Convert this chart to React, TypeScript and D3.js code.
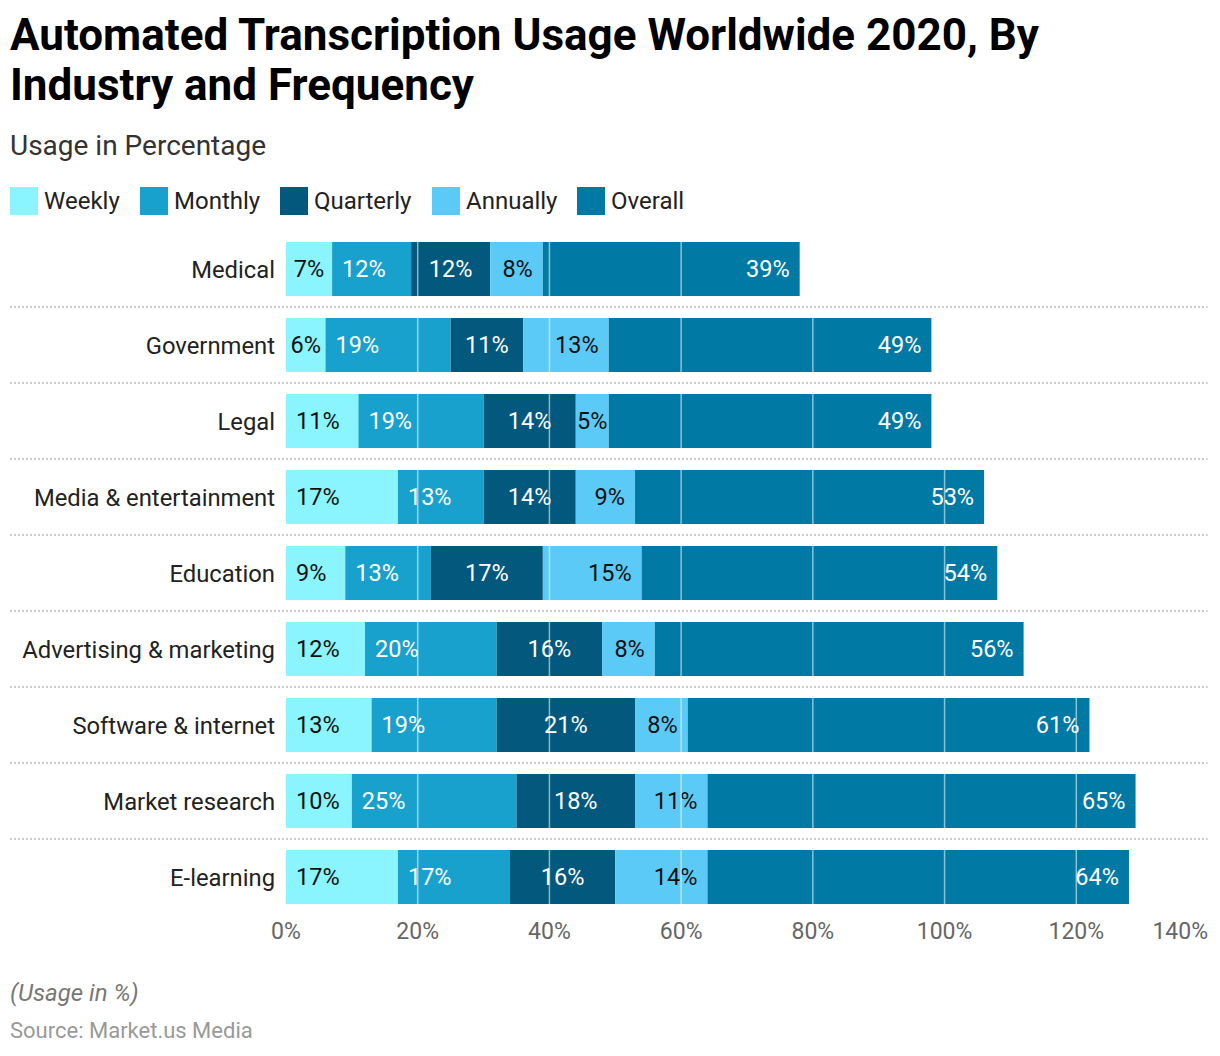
import React from 'react';
import * as d3 from 'd3';

const categories = [
  'Medical',
  'Government',
  'Legal',
  'Media & entertainment',
  'Education',
  'Advertising & marketing',
  'Software & internet',
  'Market research',
  'E-learning',
];
const seriesNames = ['Weekly', 'Monthly', 'Quarterly', 'Annually', 'Overall'];
const weekly = [7, 6, 11, 17, 9, 12, 13, 10, 17];
const monthly = [12, 19, 19, 13, 13, 20, 19, 25, 17];
const quarterly = [12, 11, 14, 14, 17, 16, 21, 18, 16];
const annually = [8, 13, 5, 9, 15, 8, 8, 11, 14];
const overall = [39, 49, 49, 53, 54, 56, 61, 65, 64];
const xTicks = [0, 20, 40, 60, 80, 100, 120, 140];

const colors = ['#8af4ff', '#19a1cd', '#03587d', '#5ccaf6', '#0079a5'];
const labelColors = ['#111111', '#ffffff', '#ffffff', '#111111', '#ffffff'];
const aligns = ['start', 'start', 'middle', 'end', 'end'];

const FONT = 'Roboto, "Noto Sans", sans-serif';

let ctx: CanvasRenderingContext2D | null = null;
function textWidth(t: string, size: number) {
  if (!ctx) {
    const c = document.createElement('canvas');
    ctx = c.getContext('2d');
  }
  if (!ctx) return t.length * size * 0.55;
  ctx.font = `${size}px Roboto`;
  return ctx.measureText(t).width;
}

export default function App() {
  const W = 1220;
  const H = 1056;
  const x = d3.scaleLinear().domain([0, 140]).range([286, 1208]);
  const y = d3
    .scaleBand<string>()
    .domain(categories)
    .range([231, 915])
    .paddingInner(22 / 76)
    .paddingOuter(11 / 76);

  const table = categories.map((c, i) => ({
    cat: c,
    Weekly: weekly[i],
    Monthly: monthly[i],
    Quarterly: quarterly[i],
    Annually: annually[i],
    Overall: overall[i],
  }));
  const stacked = d3.stack<any>().keys(seriesNames)(table);

  const labelSize = 23.5;
  const pad = 10;

  return (
    <svg
      width={W}
      height={H}
      style={{ position: 'absolute', left: 0, top: 0, background: '#fff' }}
      fontFamily={FONT}
    >
      <rect x={0} y={0} width={W} height={H} fill="#fff" />
      {/* Title */}
      <text x={10} y={50} fontSize={44} fontWeight={700} fill="#000">
        Automated Transcription Usage Worldwide 2020, By
      </text>
      <text x={10} y={100} fontSize={44} fontWeight={700} fill="#000">
        Industry and Frequency
      </text>
      <text x={10} y={155} fontSize={28} fill="#333">
        Usage in Percentage
      </text>

      {/* Legend */}
      {(() => {
        const xs = [10, 140, 280, 432, 577];
        return seriesNames.map((s, i) => (
          <g key={s} transform={`translate(${xs[i]},187)`}>
            <rect width={28} height={28} fill={colors[i]} />
            <text x={34} y={22} fontSize={24} fill="#222">
              {s}
            </text>
          </g>
        ));
      })()}

      {/* Separators */}
      {categories.slice(0, -1).map((c) => {
        const yy = (y(c) as number) + y.bandwidth() + 11;
        return (
          <line
            key={c}
            x1={10}
            x2={1208}
            y1={yy}
            y2={yy}
            stroke="#cccccc"
            strokeWidth={2}
            strokeDasharray="2,2"
          />
        );
      })}

      {/* Category labels */}
      {categories.map((c) => (
        <text
          key={c}
          x={275}
          y={(y(c) as number) + y.bandwidth() / 2 + 1}
          dy="0.35em"
          textAnchor="end"
          fontSize={23.8}
          fill="#222"
        >
          {c}
        </text>
      ))}

      {/* Bars */}
      {stacked.map((layer, si) => (
        <g key={layer.key} fill={colors[si]}>
          {layer.map((d, i) => (
            <rect
              key={i}
              x={x(d[0])}
              y={y(categories[i])}
              width={x(d[1]) - x(d[0])}
              height={y.bandwidth()}
            />
          ))}
        </g>
      ))}

      {/* Value labels */}
      {stacked.map((layer, si) => (
        <g key={'l' + layer.key}>
          {layer.map((d, i) => {
            const v = d[1] - d[0];
            const t = `${v}%`;
            const x0 = x(d[0]);
            const x1 = x(d[1]);
            const w = textWidth(t, labelSize);
            let anchor = aligns[si];
            let tx = (x0 + x1) / 2;
            if (w + 2 * pad > x1 - x0) {
              anchor = 'middle';
            } else if (anchor === 'start') tx = x0 + pad;
            else if (anchor === 'end') tx = x1 - pad;
            return (
              <text
                key={i}
                x={tx}
                y={(y(categories[i]) as number) + y.bandwidth() / 2}
                dy="0.35em"
                textAnchor={anchor}
                fontSize={labelSize}
                fill={labelColors[si]}
              >
                {t}
              </text>
            );
          })}
        </g>
      ))}

      {/* Gridlines on top */}
      {xTicks.slice(1).map((t) => (
        <line
          key={t}
          x1={x(t)}
          x2={x(t)}
          y1={231}
          y2={915}
          stroke="#ffffff"
          strokeOpacity={0.55}
          strokeWidth={1.5}
        />
      ))}

      {/* Axis labels */}
      {xTicks.map((t, i) => (
        <text
          key={t}
          x={x(t)}
          y={939}
          textAnchor={i === xTicks.length - 1 ? 'end' : 'middle'}
          fontSize={23}
          fill="#666"
        >
          {`${t}%`}
        </text>
      ))}

      {/* Footer */}
      <text x={10} y={1001} fontSize={24} fontStyle="italic" fill="#777">
        (Usage in %)
      </text>
      <text x={10} y={1038} fontSize={22} fill="#999">
        Source: Market.us Media
      </text>
    </svg>
  );
}
